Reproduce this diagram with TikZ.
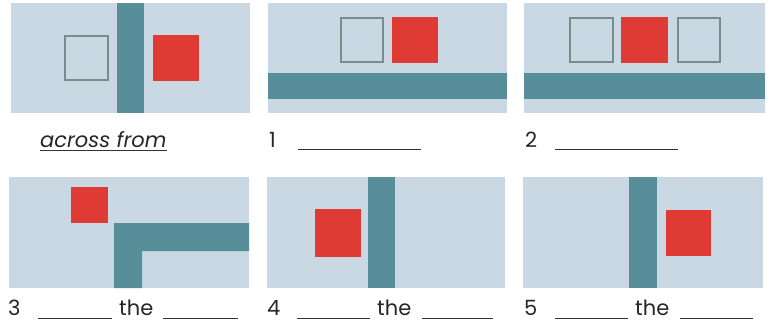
\documentclass[tikz,border=0pt]{standalone}
\usepackage{fontspec}
\setmainfont{Poppins}
\definecolor{bgblue}{RGB}{201,216,227}
\definecolor{barteal}{RGB}{88,142,153}
\definecolor{boxred}{RGB}{224,58,52}
\definecolor{boxgray}{RGB}{122,140,140}
\begin{document}
\begin{tikzpicture}[x=1pt,y=-1pt,
  panel/.style={fill=bgblue},
  bar/.style={fill=barteal},
  redbox/.style={fill=boxred},
  emptybox/.style={draw=boxgray,line width=1.6pt},
  lbl/.style={anchor=base west,inner sep=0pt,font=\fontsize{21}{24}\selectfont,text=black!85},
  blank/.style={draw=black!80,line width=0.8pt}]
\useasboundingbox (0,0) rectangle (773,321);
% Panel A: across from
\fill[panel] (11,3) rectangle (250,113);
\fill[bar] (117,3) rectangle (144,113);
\draw[emptybox] (64.8,35.8) rectangle (108.2,80.2);
\fill[redbox] (153,35) rectangle (199,81);
\node[lbl] (tA) at (40,147) {\itshape across from};
\draw[blank] (40,150) -- (167,150);
% Panel 1
\fill[panel] (268,3) rectangle (507,113);
\fill[bar] (268,73) rectangle (507,99);
\draw[emptybox] (340.8,17.8) rectangle (383.2,62.2);
\fill[redbox] (392,17) rectangle (438,63);
\node[lbl] (t1) at (269,147) {1};
\draw[blank] (298,149) -- (421,149);
% Panel 2
\fill[panel] (524,3) rectangle (765,113);
\fill[bar] (524,73) rectangle (765,99);
\draw[emptybox] (569.8,17.8) rectangle (613.2,62.2);
\fill[redbox] (621,17) rectangle (668,63);
\draw[emptybox] (677.8,17.8) rectangle (720.2,62.2);
\node[lbl] (t2) at (525,147) {2};
\draw[blank] (555,149) -- (678,149);
% Panel 3
\fill[panel] (9,177) rectangle (249,288);
\fill[redbox] (71,187) rectangle (108,223);
\fill[bar] (114,288) -- (114,223) -- (249,223) -- (249,251) -- (142,251) -- (142,288) -- cycle;
\node[lbl] (t3) at (8,315) {3};
\draw[blank] (38,318) -- (112,318);
\node[lbl] (t3b) at (119,315) {the};
\draw[blank] (163,318) -- (238,318);
% Panel 4
\fill[panel] (267,177) rectangle (505,288);
\fill[bar] (368,177) rectangle (395,288);
\fill[redbox] (315,209) rectangle (361,257);
\node[lbl] (t4) at (267,315) {4};
\draw[blank] (297,318) -- (370,318);
\node[lbl] (t4b) at (377,315) {the};
\draw[blank] (422,318) -- (493,318);
% Panel 5
\fill[panel] (523,177) rectangle (763,288);
\fill[bar] (629,177) rectangle (657,288);
\fill[redbox] (666,210) rectangle (711,256);
\node[lbl] (t5) at (524,315) {5};
\draw[blank] (555,318) -- (628,318);
\node[lbl] (t5b) at (635,315) {the};
\draw[blank] (680,318) -- (753,318);
\end{tikzpicture}
\end{document}
